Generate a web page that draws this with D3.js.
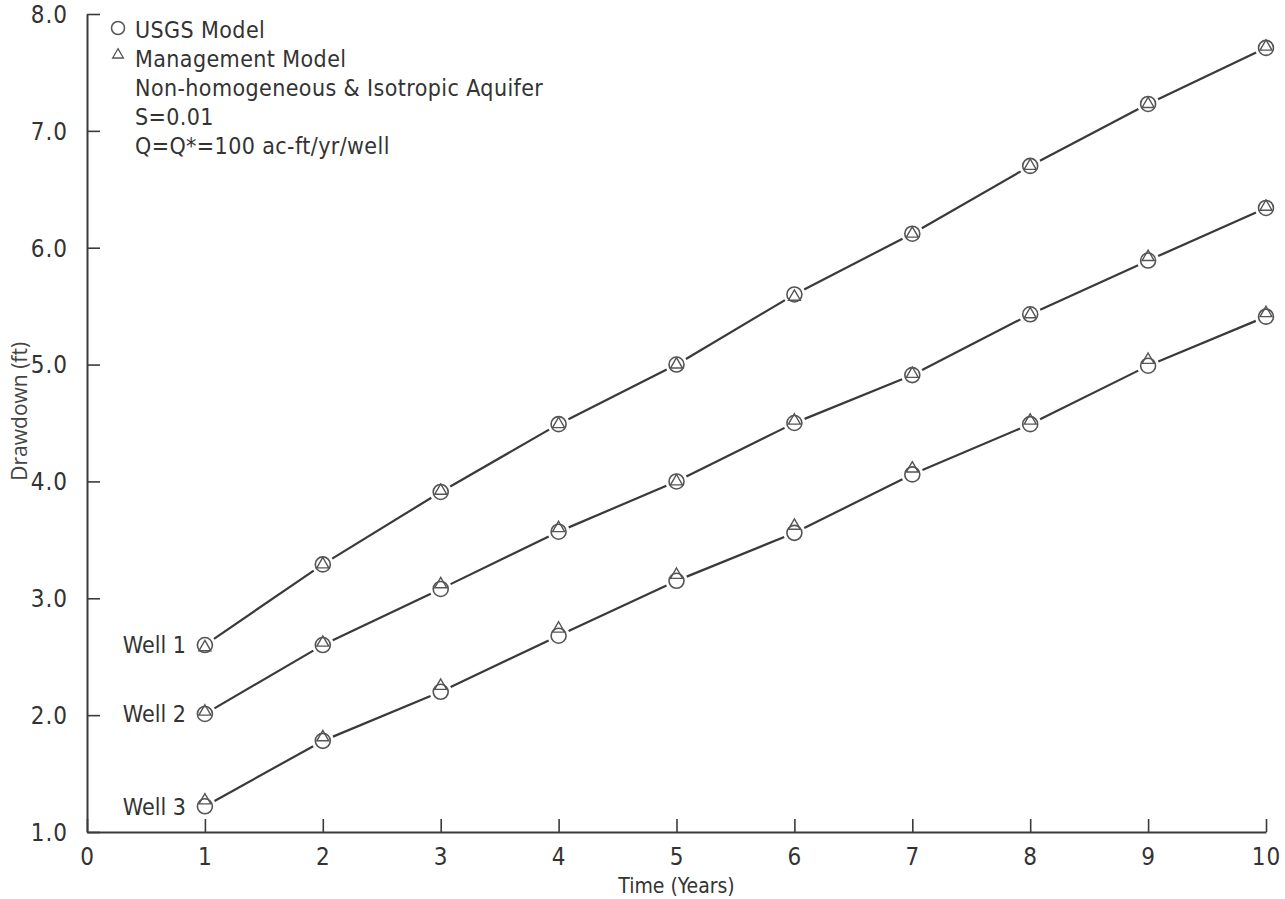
<!DOCTYPE html>
<html><head><meta charset="utf-8">
<script src="https://cdn.jsdelivr.net/npm/d3@7"></script>
<style>
body{margin:0;background:#fff}
text{font-family:"Liberation Sans Narrow","DejaVu Sans Condensed",sans-serif;fill:#333}
</style>
</head><body>
<svg id="c" width="1285" height="899"></svg>
<script>
// ---- data ----
const years = [1,2,3,4,5,6,7,8,9,10];
const wellNames = ["Well 1","Well 2","Well 3"];
const usgsWell1 = [2.60,3.29,3.91,4.49,5.00,5.60,6.12,6.70,7.23,7.71];
const usgsWell2 = [2.01,2.60,3.08,3.57,4.00,4.50,4.91,5.43,5.89,6.34];
const usgsWell3 = [1.22,1.78,2.20,2.68,3.15,3.56,4.06,4.49,4.99,5.41];
const mgmtWell1 = [2.58,3.29,3.92,4.49,5.00,5.58,6.12,6.70,7.23,7.72];
const mgmtWell2 = [2.03,2.62,3.12,3.60,4.00,4.52,4.92,5.43,5.92,6.35];
const mgmtWell3 = [1.27,1.81,2.25,2.74,3.20,3.62,4.11,4.52,5.04,5.44];
const xTicks = [0,1,2,3,4,5,6,7,8,9,10];
const yTicks = [1,2,3,4,5,6,7,8];
const legendItems = ["USGS Model","Management Model"];
const noteLines = ["Non-homogeneous & Isotropic Aquifer","S=0.01","Q=Q*=100 ac-ft/yr/well"];
const xTitle = "Time (Years)";
const yTitle = "Drawdown (ft)";

const usgs = [usgsWell1, usgsWell2, usgsWell3];
const mgmt = [mgmtWell1, mgmtWell2, mgmtWell3];

// ---- layout ----
const svg = d3.select("#c");
const x = d3.scaleLinear().domain([0,10]).range([87,1266]);
const y = d3.scaleLinear().domain([1,8]).range([832,14]);
const ink = "#3a3a3a";

// axes
const gx = svg.append("g").attr("transform",`translate(0,${y(1)})`)
  .call(d3.axisBottom(x).tickValues(xTicks).tickFormat(d3.format("d"))
    .tickSizeInner(-13).tickSizeOuter(0).tickPadding(16));
const gy = svg.append("g").attr("transform",`translate(${x(0)},0)`)
  .call(d3.axisLeft(y).tickValues(yTicks).tickFormat(d3.format(".1f"))
    .tickSizeInner(-13).tickSizeOuter(0).tickPadding(19));
[gx,gy].forEach(g=>{
  g.select(".domain").attr("stroke",ink).attr("stroke-width",2);
  g.selectAll(".tick line").attr("stroke",ink).attr("stroke-width",1.6);
  g.selectAll(".tick text").attr("fill","#333").style("font-size","24px")
    .style("font-family",'"Liberation Sans Narrow","DejaVu Sans Condensed",sans-serif')
    .attr("letter-spacing","1px");
});
gx.selectAll(".tick text").attr("dy","0.71em");
gy.selectAll(".tick text").attr("dy","0.35em");

// axis titles
svg.append("text").attr("x",x(5)).attr("y",893).attr("text-anchor","middle")
  .style("font-size","21px").text(xTitle);
svg.append("text").attr("transform",`translate(27,${y(4.6)}) rotate(-90)`)
  .attr("text-anchor","middle").style("font-family",'"Open Sans",sans-serif')
  .style("font-size","21px").style("fill","#444").text(yTitle);

// connecting lines with gaps at markers
const gap = 11;
const line = d3.line();
usgs.forEach(vals=>{
  for(let i=0;i<vals.length-1;i++){
    const x0=x(years[i]), y0=y(vals[i]), x1=x(years[i+1]), y1=y(vals[i+1]);
    const dx=x1-x0, dy=y1-y0, L=Math.hypot(dx,dy), ux=dx/L, uy=dy/L;
    svg.append("path")
      .attr("d",line([[x0+ux*gap,y0+uy*gap],[x1-ux*gap,y1-uy*gap]]))
      .attr("stroke",ink).attr("stroke-width",2.2).attr("fill","none");
  }
});

// markers
const tri = d3.symbol().type(d3.symbolTriangle).size(62);
usgs.forEach(vals=>{
  svg.append("g").selectAll("circle").data(vals).join("circle")
    .attr("cx",(d,i)=>x(years[i])).attr("cy",d=>y(d)).attr("r",7.5)
    .attr("fill","none").attr("stroke","#555").attr("stroke-width",1.6);
});
mgmt.forEach(vals=>{
  svg.append("g").selectAll("path").data(vals).join("path")
    .attr("transform",(d,i)=>`translate(${x(years[i])},${y(d)})`)
    .attr("d",tri()).attr("fill","none").attr("stroke","#555").attr("stroke-width",1.4);
});

// well labels
wellNames.forEach((name,k)=>{
  svg.append("text").attr("x",x(1)-19).attr("y",y(usgs[k][0])).attr("dy","0.36em")
    .attr("text-anchor","end").style("font-size","23px").text(name);
});

// legend
const lx = 118, lty = 38, lh = 28.9;
svg.append("circle").attr("cx",lx).attr("cy",lty-10).attr("r",6.5)
  .attr("fill","none").attr("stroke","#555").attr("stroke-width",1.5);
svg.append("path").attr("transform",`translate(${lx},${lty+lh-12})`)
  .attr("d",d3.symbol().type(d3.symbolTriangle).size(50)())
  .attr("fill","none").attr("stroke","#555").attr("stroke-width",1.3);
legendItems.concat(noteLines).forEach((t,i)=>{
  svg.append("text").attr("x",135).attr("y",lty+i*lh).style("font-size","23px")
    .attr("letter-spacing","0.4px").text(t);
});
</script>
</body></html>
